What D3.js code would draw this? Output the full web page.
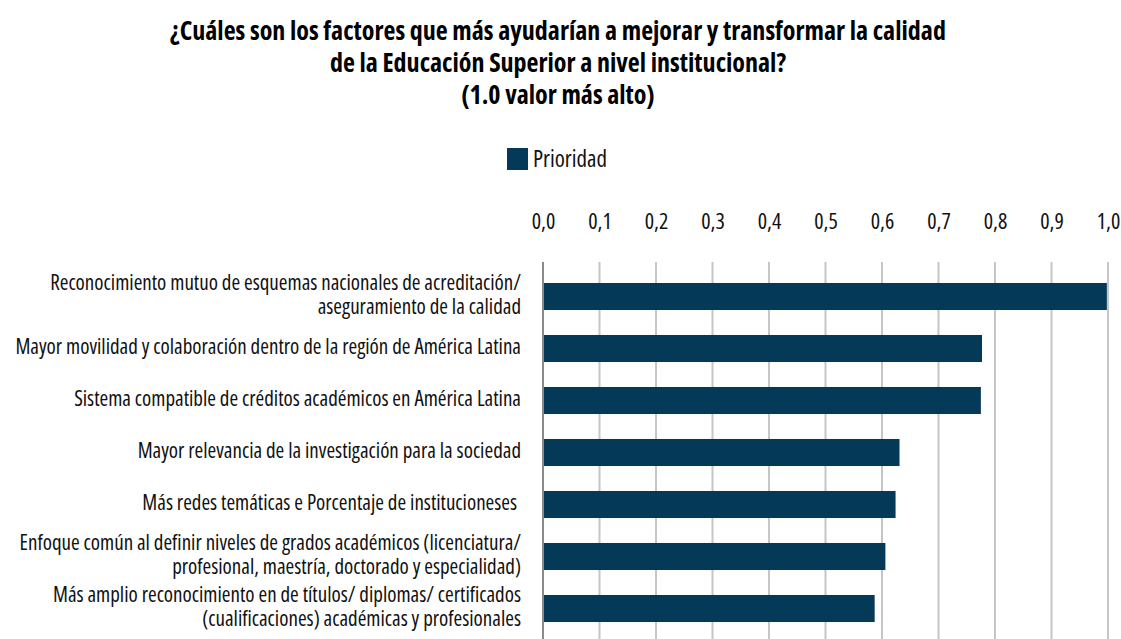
<!DOCTYPE html>
<html>
<head>
<meta charset="utf-8">
<script src="https://cdn.jsdelivr.net/npm/d3@7"></script>
<style>
  body { margin: 0; background: #fff; }
  svg { font-family: "Open Sans", sans-serif; font-stretch: condensed; }
  .title { font-weight: bold; font-size: 26px; fill: #000; }
  .cat { font-size: 21px; fill: #111; }
  .legend-label { font-size: 23px; fill: #111; }
  .tick-label { font-size: 22px; fill: #111; font-stretch: condensed; }
</style>
</head>
<body>
<div id="chart"></div>
<script>
// Chart data
const titleLines = [
    "¿Cuáles son los factores que más ayudarían a mejorar y transformar la calidad",
    "de la Educación Superior a nivel institucional?",
    "(1.0 valor más alto)"
];
const seriesName = "Prioridad";
const categories = [
    ["Reconocimiento mutuo de esquemas nacionales de acreditación/", "aseguramiento de la calidad"],
    ["Mayor movilidad y colaboración dentro de la región de América Latina"],
    ["Sistema compatible de créditos académicos en América Latina"],
    ["Mayor relevancia de la investigación para la sociedad"],
    ["Más redes temáticas e Porcentaje de institucioneses "],
    ["Enfoque común al definir niveles de grados académicos (licenciatura/", "profesional, maestría, doctorado y especialidad)"],
    ["Más amplio reconocimiento en de títulos/ diplomas/ certificados", "(cualificaciones) académicas y profesionales"]
];
const values = [0.998, 0.777, 0.775, 0.631, 0.624, 0.606, 0.587];
const tickValues = [0, 0.1, 0.2, 0.3, 0.4, 0.5, 0.6, 0.7, 0.8, 0.9, 1.0];

function createBarChart() {
    const W = 1121, H = 639;
    const barColor = "#043a57";

    const svg = d3.select("#chart").append("svg")
        .attr("width", W)
        .attr("height", H);

    // Title
    svg.selectAll(".title")
        .data(titleLines)
        .enter().append("text")
        .attr("class", "title")
        .attr("x", 558)
        .attr("y", (d, i) => 40 + i * 32)
        .attr("text-anchor", "middle")
        .text(d => d);

    // Legend
    const legend = svg.append("g").attr("transform", "translate(507,148)");
    legend.append("rect")
        .attr("width", 21).attr("height", 22)
        .attr("fill", barColor);
    legend.append("text")
        .attr("class", "legend-label")
        .attr("x", 26).attr("y", 19)
        .text(seriesName);

    // Scales
    const xScale = d3.scaleLinear()
        .domain([0, 1])
        .range([543, 1108]);

    const yScale = d3.scaleBand()
        .domain(d3.range(categories.length))
        .range([270.5, 634.5])
        .paddingInner(0.48)
        .paddingOuter(0.24);

    // Gridlines
    svg.append("g")
        .selectAll("line")
        .data(tickValues)
        .enter().append("line")
        .attr("x1", d => xScale(d)).attr("x2", d => xScale(d))
        .attr("y1", 262).attr("y2", H)
        .attr("stroke", d => d === 0 ? "#8a8a8a" : "#c6c6c8")
        .attr("stroke-width", 2);

    // Top axis tick labels
    const axis = svg.append("g")
        .attr("transform", "translate(0,229)")
        .call(d3.axisTop(xScale)
            .tickValues(tickValues)
            .tickSize(0)
            .tickPadding(0)
            .tickFormat(d => d3.format(".1f")(d).replace(".", ",")));
    axis.attr("font-family", null).attr("font-size", null);
    axis.select(".domain").remove();
    axis.selectAll("text")
        .attr("class", "tick-label")
        .attr("dy", 0)
        .attr("fill", "#111");

    // Bars
    svg.selectAll(".bar")
        .data(values)
        .enter().append("rect")
        .attr("class", "bar")
        .attr("x", xScale(0) + 1)
        .attr("y", (d, i) => yScale(i))
        .attr("width", d => xScale(d) - xScale(0) - 1)
        .attr("height", yScale.bandwidth())
        .attr("fill", barColor);

    // Category labels
    const lineH = 24;
    const labels = svg.selectAll(".cat-label")
        .data(categories)
        .enter().append("text")
        .attr("class", "cat")
        .attr("text-anchor", "end")
        .attr("y", (d, i) => yScale(i) + yScale.bandwidth() / 2 + 5 - (d.length - 1) * lineH / 2);
    labels.selectAll("tspan")
        .data(d => d)
        .enter().append("tspan")
        .attr("x", 521)
        .attr("dy", (d, j) => j === 0 ? 0 : lineH)
        .attr("xml:space", "preserve")
        .text(d => d);
}

createBarChart();
</script>
</body>
</html>
